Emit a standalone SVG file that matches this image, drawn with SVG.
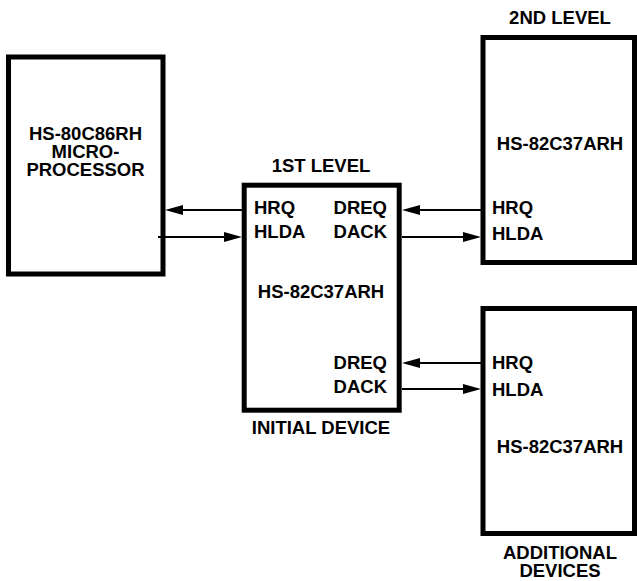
<svg xmlns="http://www.w3.org/2000/svg" width="637" height="581" viewBox="0 0 637 581">
<defs>
<style>
.box{fill:#fff;stroke:#000;stroke-width:5}
.t{font-family:"Liberation Sans",Arial,sans-serif;font-weight:bold;font-size:18.5px;fill:#000}
.c{text-anchor:middle}
.e{text-anchor:end}
.w{stroke:#000;stroke-width:2;fill:none;marker-end:url(#ah)}
</style>
<marker id="ah" viewBox="0 0 18 10" markerWidth="18" markerHeight="10" markerUnits="userSpaceOnUse" refX="12" refY="5" orient="auto">
<path d="M0,0 L18,5 L0,10 z" fill="#000"/>
</marker>
</defs>
<rect width="637" height="581" fill="#fff"/>
<g id="microprocessor">
<rect class="box" x="8.5" y="57" width="154.5" height="217"/>
<text class="t c" x="85.5" y="140">HS-80C86RH</text>
<text class="t c" x="85.5" y="158">MICRO-</text>
<text class="t c" x="85.5" y="176">PROCESSOR</text>
</g>
<g id="initial-device">
<rect class="box" x="244.2" y="185.2" width="155" height="225"/>
<text class="t c" x="321" y="171.5">1ST LEVEL</text>
<text class="t" x="254" y="214">HRQ</text>
<text class="t" x="254" y="238">HLDA</text>
<text class="t e" x="387" y="214">DREQ</text>
<text class="t e" x="387" y="238">DACK</text>
<text class="t c" x="321" y="298">HS-82C37ARH</text>
<text class="t e" x="387" y="369">DREQ</text>
<text class="t e" x="387" y="393">DACK</text>
<text class="t c" x="321" y="434">INITIAL DEVICE</text>
</g>
<g id="second-level">
<rect class="box" x="483" y="37.5" width="151.5" height="225"/>
<text class="t c" x="560" y="24">2ND LEVEL</text>
<text class="t c" x="560" y="150">HS-82C37ARH</text>
<text class="t" x="492" y="214">HRQ</text>
<text class="t" x="492" y="240">HLDA</text>
</g>
<g id="additional-devices">
<rect class="box" x="483" y="308.5" width="151.5" height="225"/>
<text class="t" x="492" y="369">HRQ</text>
<text class="t" x="492" y="396">HLDA</text>
<text class="t c" x="560" y="453">HS-82C37ARH</text>
<text class="t c" x="560" y="559">ADDITIONAL</text>
<text class="t c" x="560" y="577">DEVICES</text>
</g>
<g id="connectors">
<line class="w" x1="242" y1="210" x2="171" y2="210"/>
<line class="w" x1="158" y1="237" x2="236" y2="237"/>
<line class="w" x1="481" y1="210" x2="408" y2="210"/>
<line class="w" x1="402" y1="237" x2="475" y2="237"/>
<line class="w" x1="481" y1="363" x2="408" y2="363"/>
<line class="w" x1="402" y1="389" x2="475" y2="389"/>
</g>
</svg>
